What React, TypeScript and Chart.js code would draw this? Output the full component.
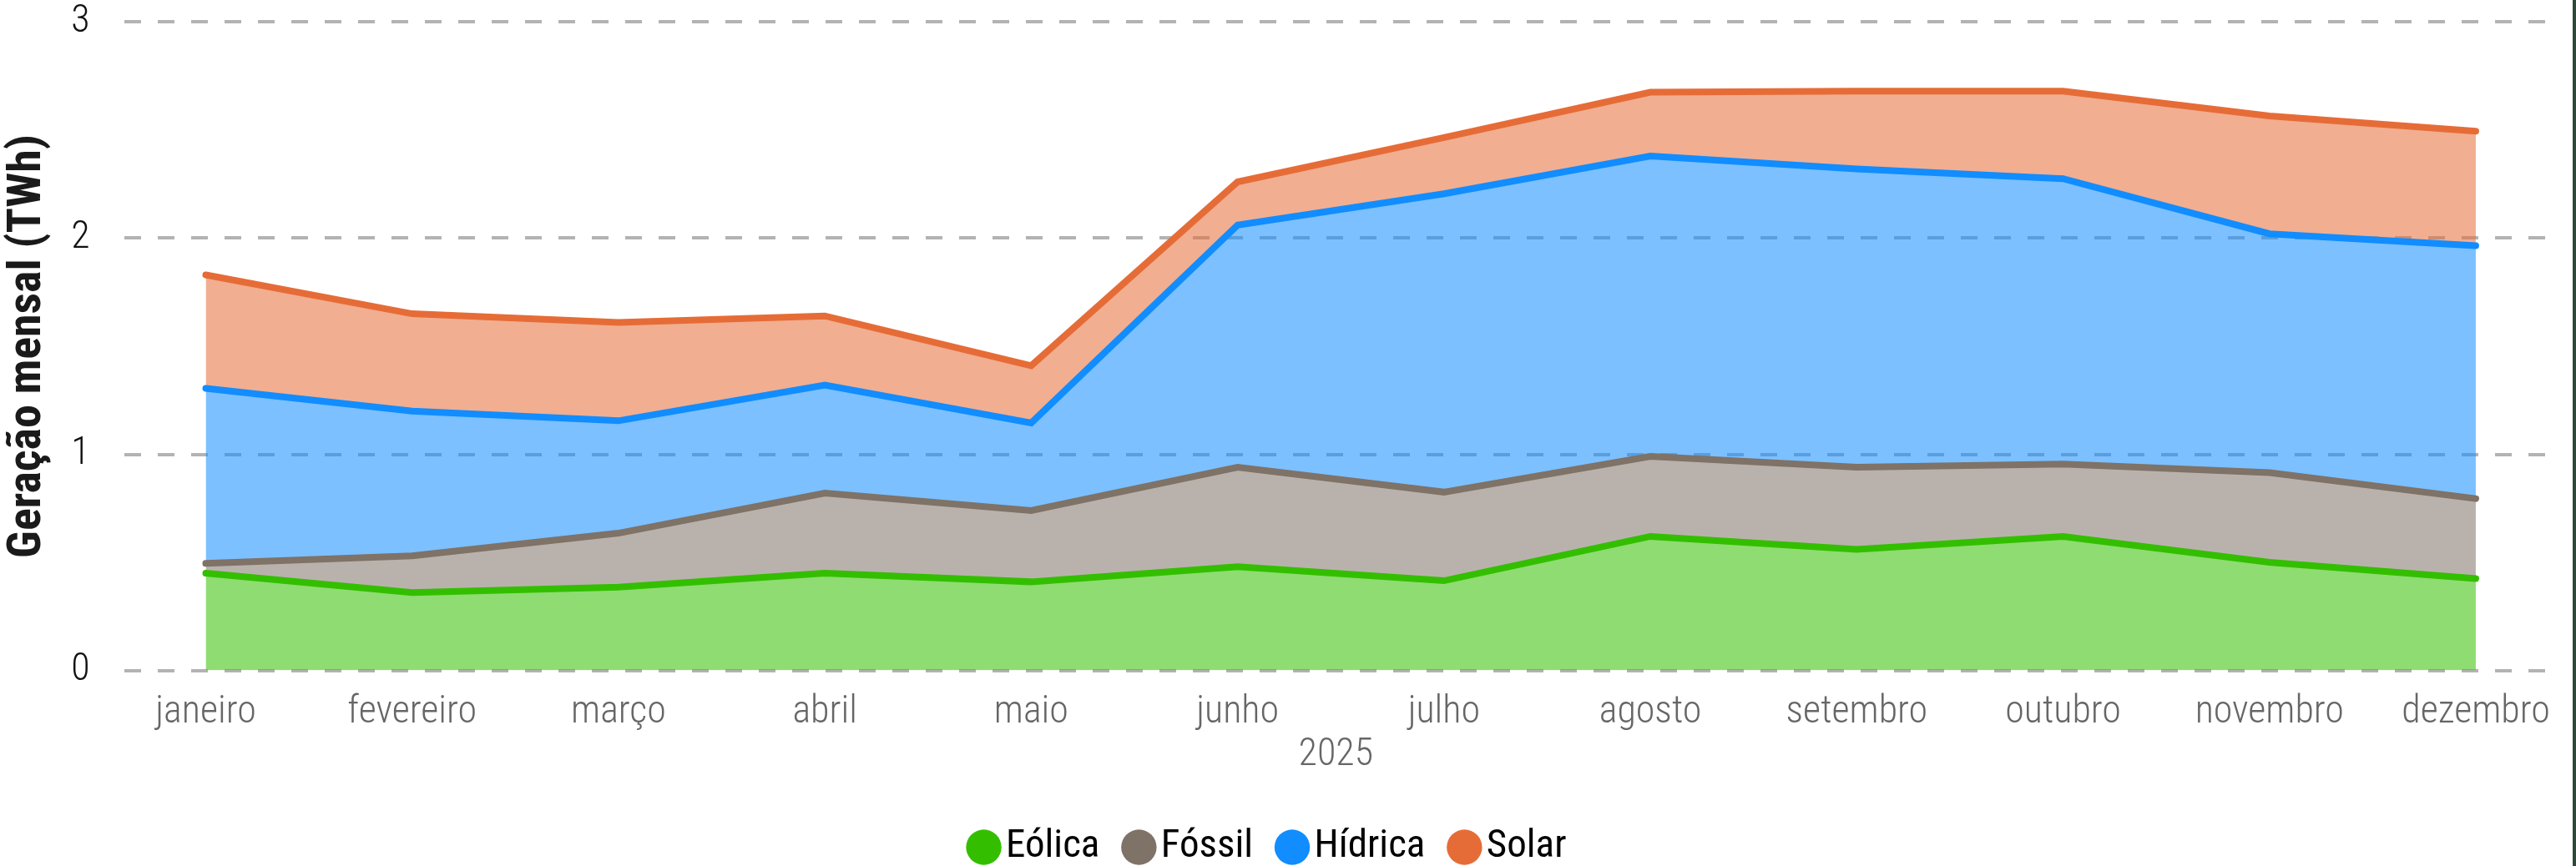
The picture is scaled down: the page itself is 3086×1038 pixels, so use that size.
import React, { useEffect, useRef } from "react";
import { Chart, registerables } from "chart.js";

Chart.register(...registerables);

// ---- data ----
const months = [
  "janeiro", "fevereiro", "março", "abril", "maio", "junho",
  "julho", "agosto", "setembro", "outubro", "novembro", "dezembro",
];
const eolica = [0.45, 0.36, 0.385, 0.45, 0.41, 0.48, 0.415, 0.62, 0.56, 0.62, 0.50, 0.425];
const fossil = [0.045, 0.17, 0.25, 0.37, 0.33, 0.46, 0.41, 0.37, 0.38, 0.335, 0.415, 0.37];
const hidrica = [0.81, 0.67, 0.52, 0.50, 0.405, 1.12, 1.38, 1.39, 1.38, 1.32, 1.105, 1.17];
const solar = [0.525, 0.45, 0.455, 0.32, 0.265, 0.20, 0.26, 0.295, 0.36, 0.405, 0.545, 0.53];
const yTickValues = [0, 1, 2, 3];
const seriesNames = ["Eólica", "Fóssil", "Hídrica", "Solar"];
const seriesColors = ["#33bf00", "#7f7267", "#118dff", "#e66c37"];
const seriesFills = [
  "rgba(51,191,0,0.55)",
  "rgba(127,114,103,0.55)",
  "rgba(17,141,255,0.55)",
  "rgba(230,108,55,0.55)",
];
const yTitle = "Geração mensal (TWh)";
const xTitle = "2025";

const FONT = "'Roboto Condensed', Roboto, sans-serif";

export default function App() {
  const ref = useRef<HTMLCanvasElement>(null);

  useEffect(() => {
    const canvas = ref.current!;
    const series = [eolica, fossil, hidrica, solar];
    const chart = new Chart(canvas, {
      type: "line",
      data: {
        datasets: series.map((vals, si) => ({
          label: seriesNames[si],
          data: vals.map((v, i) => ({ x: i, y: v })),
          borderColor: seriesColors[si],
          backgroundColor: seriesFills[si],
          borderWidth: 8,
          borderCapStyle: "round" as const,
          borderJoinStyle: "miter" as const,
          pointRadius: 0,
          pointHoverRadius: 0,
          tension: 0,
          fill: si === 0 ? "origin" : "-1",
        })),
      },
      options: {
        responsive: false,
        animation: false,
        devicePixelRatio: 1,
        layout: { padding: { left: 0, right: 30, top: 0, bottom: 0 } },
        interaction: { mode: "index", intersect: false },
        plugins: {
          tooltip: { enabled: false },
          legend: {
            position: "bottom",
            align: "center",
            labels: {
              usePointStyle: true,
              pointStyle: "circle",
              boxWidth: 6,
              boxHeight: 30,
              padding: 44,
              color: "#000",
              font: { family: FONT, size: 47, weight: "normal" },
              generateLabels: (ch: any) => {
                const items = Chart.defaults.plugins.legend.labels.generateLabels(ch);
                return items.map((it: any, i: number) => ({
                  ...it,
                  fillStyle: seriesColors[i],
                  strokeStyle: seriesColors[i],
                  lineWidth: 0,
                  pointStyle: "circle",
                }));
              },
            },
          },
        },
        scales: {
          x: {
            type: "linear",
            min: -0.396,
            max: 11.348,
            grid: { display: false, drawTicks: false },
            border: { display: false },
            afterBuildTicks: (scale: any) => {
              scale.ticks = months.map((_, i) => ({ value: i }));
            },
            ticks: {
              autoSkip: false,
              maxRotation: 0,
              padding: 23,
              color: "#666",
              font: { family: FONT, size: 46, weight: 300 },
              callback: (v: any) => months[Math.round(Number(v))] ?? "",
            },
            title: {
              display: true,
              text: xTitle,
              color: "#666",
              font: { family: FONT, size: 46, weight: 300 },
              padding: { top: -27, bottom: 15 },
            },
          },
          y: {
            type: "linear",
            stacked: true,
            min: 0,
            max: 3,
            afterBuildTicks: (scale: any) => {
              scale.ticks = yTickValues.map((v) => ({ value: v }));
            },
            grid: {
              color: "#b3b3b3",
              lineWidth: 4,
              drawTicks: true,
              tickLength: 40,
              tickColor: "rgba(0,0,0,0)",
            },
            border: { display: false, dash: [20, 20] },
            ticks: {
              padding: 1,
              color: "#111",
              font: { family: FONT, size: 46, weight: 300, lineHeight: 1.1 },
              callback: (v: any) => String(v),
            },
            title: {
              display: true,
              text: yTitle,
              color: "#1a1a1a",
              font: { family: FONT, size: 56, weight: "bold" },
              padding: { top: 0, bottom: 17 },
            },
          },
        },
      },
    });
    return () => chart.destroy();
  }, []);

  return (
    <div
      style={{
        position: "fixed",
        left: 0,
        top: 0,
        width: 3086,
        height: 1038,
        overflow: "hidden",
        background: "#fff",
      }}
    >
      <canvas ref={ref} width={3082} height={1049} style={{ display: "block" }} />
      <div
        style={{
          position: "absolute",
          right: 0,
          top: 0,
          width: 4,
          height: "100%",
          background: "#2b4a3a",
        }}
      />
    </div>
  );
}
